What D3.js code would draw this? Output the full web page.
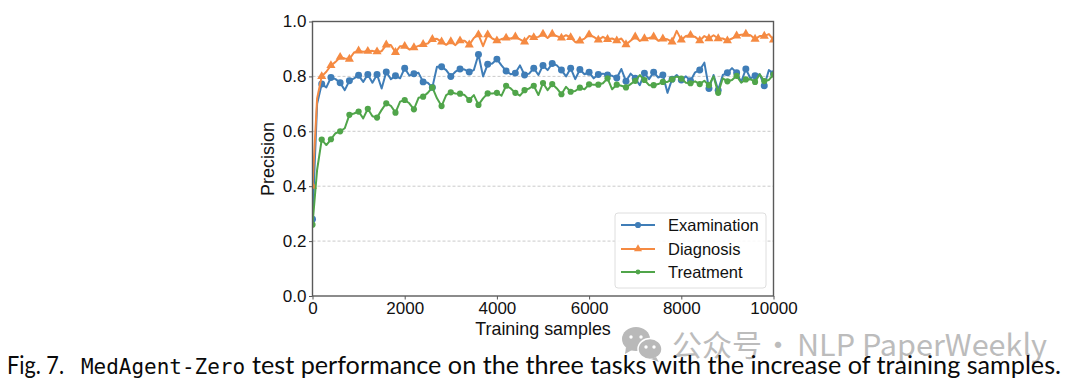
<!DOCTYPE html>
<html lang="en">
<head>
<meta charset="UTF-8">
<title>MedAgent-Zero test performance</title>
<script src="https://d3js.org/d3.v7.min.js"></script>
<style>
  html, body { margin: 0; padding: 0; background: #fff; }
  svg { display: block; }
</style>
</head>
<body>
<script>
// values, one every 100 samples
const examination = [0.28,0.70,0.772,0.76,0.796,0.79,0.777,0.75,0.784,0.793,0.804,0.78,0.807,0.777,0.807,0.756,0.816,0.79,0.802,0.793,
  0.83,0.803,0.81,0.813,0.78,0.777,0.76,0.835,0.835,0.823,0.80,0.817,0.827,0.825,0.816,0.823,0.88,0.80,0.844,0.847,
  0.863,0.84,0.82,0.808,0.812,0.84,0.805,0.81,0.83,0.805,0.84,0.823,0.847,0.84,0.823,0.80,0.83,0.79,0.825,0.808,
  0.815,0.793,0.807,0.81,0.805,0.802,0.794,0.827,0.782,0.81,0.793,0.768,0.812,0.79,0.815,0.796,0.805,0.74,0.79,0.805,
  0.787,0.80,0.784,0.815,0.823,0.85,0.756,0.805,0.75,0.805,0.813,0.83,0.813,0.78,0.827,0.793,0.802,0.808,0.766,0.823,0.81];
const diagnosis = [0.40,0.72,0.80,0.817,0.84,0.853,0.87,0.865,0.863,0.887,0.893,0.89,0.892,0.893,0.89,0.892,0.915,0.914,0.888,0.91,
  0.91,0.898,0.905,0.911,0.917,0.92,0.935,0.937,0.926,0.915,0.927,0.914,0.93,0.93,0.915,0.94,0.952,0.91,0.952,0.938,
  0.93,0.936,0.94,0.938,0.944,0.935,0.926,0.947,0.942,0.944,0.954,0.94,0.954,0.947,0.94,0.95,0.942,0.925,0.929,0.938,
  0.952,0.944,0.933,0.944,0.935,0.938,0.93,0.938,0.916,0.93,0.944,0.929,0.938,0.94,0.944,0.93,0.937,0.935,0.926,0.966,
  0.933,0.947,0.95,0.944,0.93,0.947,0.938,0.95,0.938,0.938,0.93,0.938,0.948,0.952,0.954,0.95,0.936,0.947,0.947,0.954,0.933];
const treatment = [0.26,0.46,0.57,0.55,0.571,0.593,0.60,0.611,0.66,0.665,0.672,0.647,0.682,0.655,0.65,0.678,0.702,0.693,0.668,0.708,
  0.714,0.702,0.68,0.722,0.726,0.74,0.76,0.72,0.692,0.732,0.742,0.738,0.737,0.732,0.714,0.732,0.696,0.72,0.738,0.738,
  0.74,0.73,0.766,0.756,0.74,0.73,0.75,0.756,0.766,0.732,0.776,0.75,0.772,0.756,0.735,0.762,0.744,0.747,0.759,0.753,
  0.771,0.77,0.77,0.775,0.793,0.753,0.77,0.766,0.76,0.772,0.784,0.805,0.787,0.768,0.768,0.772,0.78,0.78,0.789,0.80,
  0.792,0.777,0.775,0.782,0.772,0.784,0.768,0.80,0.74,0.793,0.782,0.787,0.802,0.777,0.789,0.79,0.78,0.808,0.783,0.787,0.807];

const seriesNames = ["Examination", "Diagnosis", "Treatment"];
const seriesValues = [examination, diagnosis, treatment];
const seriesColors = ["#3f7db7", "#f58a42", "#50a54a"];
const xTicks = [0, 2000, 4000, 6000, 8000, 10000];
const yTicks = [0, 0.2, 0.4, 0.6, 0.8, 1.0];
const sampleStep = 100;
const markerEvery = 2;

const width = 1080, height = 389;
const plotLeft = 312.5, plotRight = 773.5, plotTop = 21.5, plotBottom = 296;
const chartFont = "'Liberation Sans', Arial, sans-serif";

const svg = d3.select("body").append("svg")
  .attr("width", width)
  .attr("height", height);

const x = d3.scaleLinear().domain([0, 10000]).range([plotLeft, plotRight]);
const y = d3.scaleLinear().domain([0, 1]).range([plotBottom, plotTop]);

// marker shape per series
const symbols = [
  d3.symbol().type(d3.symbolCircle).size(38),
  d3.symbol().type(d3.symbolTriangle).size(36),
  d3.symbol().type(d3.symbolCircle).size(30)
];
const legendSymbols = [
  d3.symbol().type(d3.symbolCircle).size(30),
  d3.symbol().type(d3.symbolTriangle).size(28),
  d3.symbol().type(d3.symbolCircle).size(18)
];

svg.append("clipPath").attr("id", "plot-clip")
  .append("rect")
  .attr("x", plotLeft).attr("y", plotTop)
  .attr("width", plotRight - plotLeft).attr("height", plotBottom - plotTop);

// grid
svg.append("g").selectAll("line")
  .data(yTicks.filter(d => d > 0 && d < 1))
  .enter().append("line")
  .attr("x1", plotLeft).attr("x2", plotRight)
  .attr("y1", d => y(d)).attr("y2", d => y(d))
  .attr("stroke", "#c4c4c4")
  .attr("stroke-width", 0.9)
  .attr("stroke-dasharray", "3,2");

// lines and markers
const line = d3.line()
  .x((d, i) => x(i * sampleStep))
  .y(d => y(d));

const plot = svg.append("g").attr("clip-path", "url(#plot-clip)");
seriesValues.forEach((values, s) => {
  plot.append("path")
    .datum(values)
    .attr("d", line)
    .attr("fill", "none")
    .attr("stroke", seriesColors[s])
    .attr("stroke-width", 2)
    .attr("stroke-linejoin", "round");
  plot.selectAll(".m" + s)
    .data(values.map((v, i) => [i, v]).filter(d => d[0] % markerEvery === 0))
    .enter().append("path")
    .attr("class", "m" + s)
    .attr("d", symbols[s])
    .attr("fill", seriesColors[s])
    .attr("transform", d => `translate(${x(d[0] * sampleStep)},${y(d[1])})`);
});

// axes
const xAxis = svg.append("g")
  .attr("transform", `translate(0,${plotBottom})`)
  .call(d3.axisBottom(x).tickValues(xTicks).tickFormat(d3.format("d")).tickSize(3.5).tickPadding(2.5));
const yAxis = svg.append("g")
  .attr("transform", `translate(${plotLeft},0)`)
  .call(d3.axisLeft(y).tickValues(yTicks).tickFormat(d3.format(".1f")).tickSize(3.5).tickPadding(2.5));

[xAxis, yAxis].forEach(a => {
  a.selectAll("text").attr("font-family", chartFont).attr("font-size", 17).attr("fill", "#111");
  a.selectAll("line").attr("stroke", "#555").attr("stroke-width", 1);
  a.select(".domain").remove();
});

// spines
svg.append("rect")
  .attr("x", plotLeft).attr("y", plotTop)
  .attr("width", plotRight - plotLeft).attr("height", plotBottom - plotTop)
  .attr("fill", "none")
  .attr("stroke", "#5a5a5a")
  .attr("stroke-width", 1.4);

// axis labels
svg.append("text")
  .attr("x", 543).attr("y", 335)
  .attr("text-anchor", "middle")
  .attr("font-family", chartFont).attr("font-size", 17.9).attr("fill", "#111")
  .text("Training samples");
svg.append("text")
  .attr("transform", "translate(274,159) rotate(-90)")
  .attr("text-anchor", "middle")
  .attr("font-family", chartFont).attr("font-size", 18).attr("fill", "#111")
  .text("Precision");

// legend
const legendRows = [225, 249, 272];
svg.append("rect")
  .attr("x", 615).attr("y", 213)
  .attr("width", 151).attr("height", 75)
  .attr("rx", 3)
  .attr("fill", "#fff").attr("fill-opacity", 0.85)
  .attr("stroke", "#dedede").attr("stroke-width", 1);

const legend = svg.append("g").selectAll("g")
  .data(seriesNames)
  .enter().append("g")
  .attr("transform", (d, i) => `translate(621,${legendRows[i]})`);
legend.append("line")
  .attr("x1", 0).attr("x2", 34)
  .attr("stroke", (d, i) => seriesColors[i])
  .attr("stroke-width", 2);
legend.append("path")
  .attr("d", (d, i) => legendSymbols[i]())
  .attr("transform", "translate(17,0)")
  .attr("fill", (d, i) => seriesColors[i]);
legend.append("text")
  .attr("x", 47).attr("y", 6)
  .attr("font-family", chartFont).attr("font-size", 16.5).attr("fill", "#111")
  .text(d => d);

// watermark
const mark = svg.append("g").attr("fill", "#b9b9b9");
mark.append("ellipse").attr("cx", 636).attr("cy", 339).attr("rx", 14).attr("ry", 12);
mark.append("path").attr("d", "M626 347 L625 354 L632 350 Z");
mark.append("ellipse").attr("cx", 650).attr("cy", 349).attr("rx", 12).attr("ry", 10.5)
  .attr("stroke", "#fff").attr("stroke-width", 1.5);
mark.append("path").attr("d", "M656 357 L659 362 L651 359 Z");
[[631, 337], [641, 337], [646, 347], [654, 347]].forEach(p => {
  mark.append("circle").attr("cx", p[0]).attr("cy", p[1]).attr("r", 1.7).attr("fill", "#fff");
});
const markText = svg.append("g").attr("fill", "#bcbcbc").attr("font-size", 30)
  .attr("font-family", "'Noto Sans CJK SC', 'Noto Sans', sans-serif");
markText.append("text").attr("x", 672).attr("y", 356).text("公众号");
markText.append("text").attr("x", 763).attr("y", 356).text("·");
markText.append("text").attr("x", 797).attr("y", 356)
  .attr("textLength", 250).attr("lengthAdjust", "spacingAndGlyphs")
  .text("NLP PaperWeekly");

// caption
const captionFont = "Lato, 'Open Sans', sans-serif";
const caption = svg.append("g").attr("fill", "#0a0a0a").attr("font-size", 25.5);
caption.append("text").attr("x", 7).attr("y", 374)
  .attr("font-family", captionFont)
  .attr("textLength", 57).attr("lengthAdjust", "spacingAndGlyphs").text("Fig. 7.");
caption.append("text").attr("x", 81).attr("y", 374)
  .attr("font-family", "'DejaVu Sans Mono', monospace").attr("font-size", 22)
  .attr("textLength", 164).attr("lengthAdjust", "spacingAndGlyphs").text("MedAgent-Zero");
caption.append("text").attr("x", 252).attr("y", 374)
  .attr("font-family", captionFont)
  .attr("textLength", 809).attr("lengthAdjust", "spacingAndGlyphs")
  .text("test performance on the three tasks with the increase of training samples.");
</script>
</body>
</html>
